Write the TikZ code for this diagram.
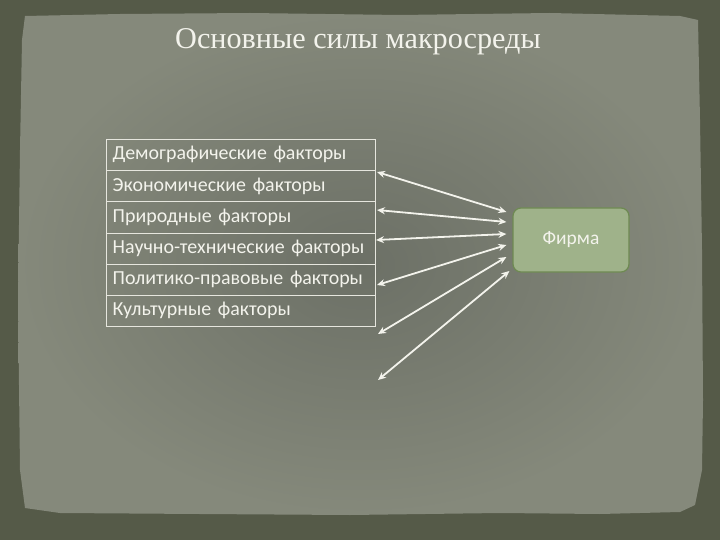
\documentclass[tikz,border=0pt]{standalone}
\usepackage{fontspec}
\setmainfont{Liberation Serif}
\newfontfamily\bodyfont{Carlito}
\usepackage{tikz}
\usetikzlibrary{calc}
\usetikzlibrary{positioning, arrows.meta, shapes}
\usepackage{xcolor}
\definecolor{framedark}{HTML}{555A48}
\definecolor{panelin}{HTML}{6C7066}
\definecolor{panelout}{HTML}{85897B}
\definecolor{textwhite}{HTML}{F3F3EC}
\definecolor{rowline}{HTML}{E6E6DE}
\definecolor{firmfill}{HTML}{9FB28A}
\definecolor{firmline}{HTML}{6E8A52}

\begin{document}
\begin{tikzpicture}[x=1bp, y=-1bp, node distance=0pt, auto]
    % Define styles
    \tikzstyle{factor} = [rectangle, draw=rowline, line width=0.8bp, outer sep=0pt, text=textwhite, text width=256.6bp, inner xsep=6bp, inner ysep=0pt, align=left, minimum height=31.2bp, font=\bodyfont\fontsize{20}{24}\selectfont]
    \tikzstyle{firm} = [rectangle, rounded corners=8bp, draw=firmline, line width=1.2bp, fill=firmfill, text=textwhite, minimum width=116bp, minimum height=64bp, font=\bodyfont\fontsize{19.5}{23}\selectfont]
    \tikzstyle{arrow} = [line width=1.8bp, draw=textwhite, {Stealth[length=8bp,width=7bp]}-{Stealth[length=8bp,width=7bp]}]

    % Background
    \useasboundingbox (0,0) rectangle (720,540);
    \fill[framedark] (0,0) rectangle (720,540);
    \shade[inner color=panelin, outer color=panelout]
        (25,16) -- (120,14) -- (250,13) -- (400,15) -- (550,13) -- (680,16) -- (698,20)
        -- (700,120) -- (702,250) -- (703,400) -- (702,470) -- (695,505) -- (680,512)
        -- (600,514) -- (500,513) -- (350,515) -- (200,514) -- (60,513) -- (25,508)
        -- (20,470) -- (18,300) -- (20,150) -- (22,40) -- cycle;

    % Title
    \node[text=textwhite, font=\fontsize{30.3}{36}\selectfont] (title) at (358,42) {Основные силы макросреды};

    % Factors
    \node [factor, anchor=north west] (demo) at (106.7,139.3) {Демографические факторы};
    \node [factor, below=of demo] (econ) {Экономические факторы};
    \node [factor, below=of econ] (nature) {Природные факторы};
    \node [factor, below=of nature] (tech) {Научно-технические факторы};
    \node [factor, below=of tech] (politics) {Политико-правовые факторы};
    \node [factor, below=of politics] (culture) {Культурные факторы};

    % Firm
    \node [firm] (firma) at (571,240) {Фирма};

    % Arrow ends
    \coordinate (l1) at (377,172);
    \coordinate (l2) at (377,210);
    \coordinate (l3) at (376,240);
    \coordinate (l4) at (377,285);
    \coordinate (l5) at (378,334);
    \coordinate (l6) at (378,380);
    \coordinate (r1) at ($(firma.west)+(-6,-28)$);
    \coordinate (r2) at ($(firma.west)+(-6,-18)$);
    \coordinate (r3) at ($(firma.west)+(-6,-6)$);
    \coordinate (r4) at ($(firma.west)+(-6,5)$);
    \coordinate (r5) at ($(firma.west)+(-6,17)$);
    \coordinate (r6) at ($(firma.west)+(-3,31)$);

    % Arrows
    \foreach \i in {1,...,6}
        \draw [arrow] (l\i) -- (r\i);
\end{tikzpicture}
\end{document}
